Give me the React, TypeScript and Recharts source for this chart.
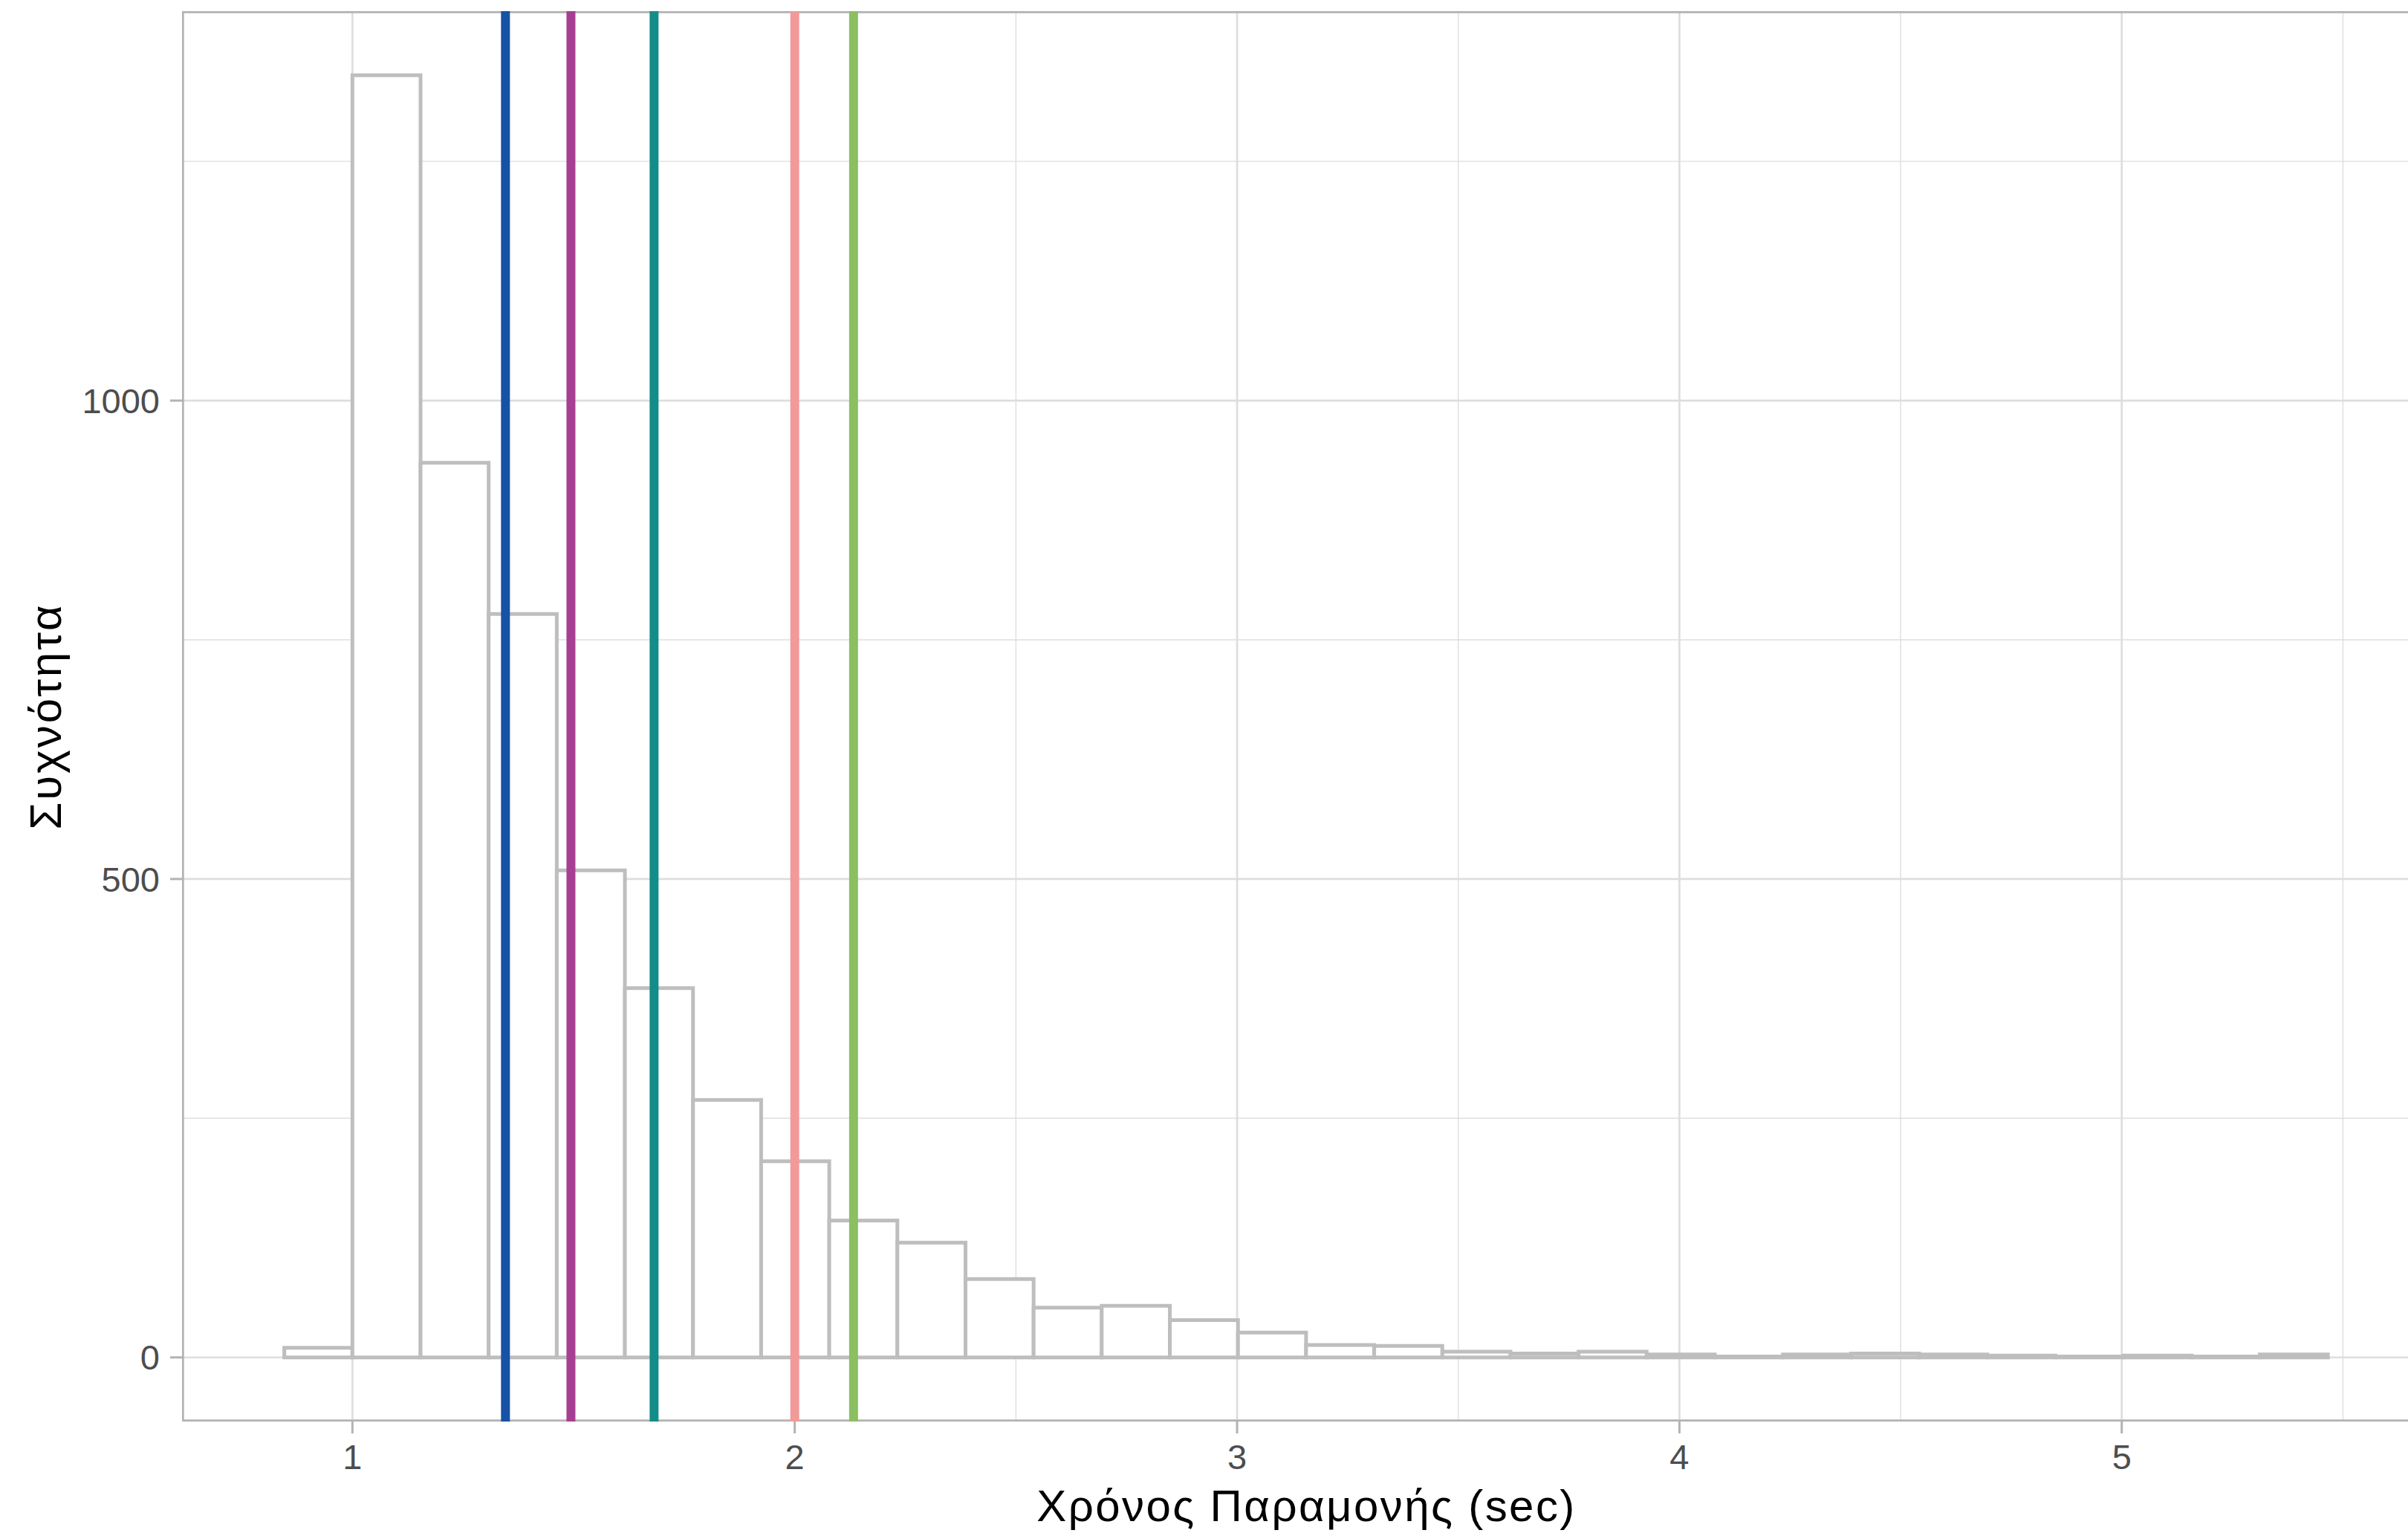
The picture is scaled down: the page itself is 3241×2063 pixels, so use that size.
import {
  ComposedChart,
  XAxis,
  YAxis,
  CartesianGrid,
  ReferenceArea,
  ReferenceLine,
  Label,
} from "recharts";

// histogram bins (sec), 31 edges -> 30 bins
const binEdges = [
  0.846, 1.0, 1.154, 1.308, 1.462, 1.616, 1.77, 1.924, 2.078, 2.232, 2.386,
  2.54, 2.694, 2.848, 3.002, 3.156, 3.31, 3.464, 3.618, 3.772, 3.926, 4.08,
  4.234, 4.388, 4.542, 4.696, 4.85, 5.004, 5.158, 5.312, 5.466,
];
const binCounts = [
  10, 1340, 935, 777, 509, 386, 269, 205, 143, 120, 82, 52, 54, 39, 26, 13, 12,
  6, 4, 6, 3, 1, 3, 4, 3, 2, 1, 2, 1, 3,
];

// vertical reference lines
const markerValues = [1.346, 1.494, 1.682, 2.0, 2.133];
const markerColors = ["#1652A6", "#A63F92", "#138D8A", "#F29999", "#8BBF62"];

const xTicks = [1, 2, 3, 4, 5];
const xMinor = [1.5, 2.5, 3.5, 4.5, 5.5];
const yTicks = [0, 500, 1000];
const yMinor = [250, 750, 1250];

const xDomain: [number, number] = [0.6148, 5.6992];
const yDomain: [number, number] = [-67, 1407];

const FONT = '"Liberation Sans", Arial, Helvetica, sans-serif';

const bins = binCounts.map((count, i) => ({
  x0: binEdges[i],
  x1: binEdges[i + 1],
  count,
}));

// eslint-disable-next-line @typescript-eslint/no-explicit-any
function XTitle({ viewBox }: any) {
  if (!viewBox) return null;
  return (
    <text
      x={viewBox.x + viewBox.width / 2}
      y={viewBox.y + 134}
      textAnchor="middle"
      fontFamily={FONT}
      fontSize={60}
      letterSpacing={2.4}
      fill="#000"
    >
      Χρόνος Παραμονής (sec)
    </text>
  );
}

// eslint-disable-next-line @typescript-eslint/no-explicit-any
function YTitle({ viewBox }: any) {
  if (!viewBox) return null;
  const cx = viewBox.x + 82;
  const cy = viewBox.y + viewBox.height / 2;
  return (
    <text
      x={cx}
      y={cy}
      transform={`rotate(-90, ${cx}, ${cy})`}
      textAnchor="middle"
      fontFamily={FONT}
      fontSize={60}
      letterSpacing={3}
      fill="#000"
    >
      Συχνότητα
    </text>
  );
}

export default function App() {
  return (
    <div style={wrapStyle}>
      <ComposedChart
        width={3280}
        height={2063}
        data={bins}
        margin={{ top: 15, right: 8, bottom: 0, left: 0 }}
      >
        <CartesianGrid
          stroke="#DEDEDE"
          strokeWidth={1.4}
          horizontalValues={yMinor}
          verticalValues={xMinor}
        />
        <CartesianGrid
          stroke="#DEDEDE"
          strokeWidth={2.7}
          horizontalValues={yTicks}
          verticalValues={xTicks}
        />
        <XAxis
          type="number"
          dataKey="x0"
          domain={xDomain}
          ticks={xTicks}
          allowDataOverflow
          height={150}
          axisLine={false}
          tickLine={{ stroke: "#B3B3B3", strokeWidth: 3 }}
          tickSize={16}
          tickMargin={15}
          tick={{ fontSize: 47, fill: "#4D4D4D", fontFamily: FONT }}
        >
          <Label content={(p) => <XTitle viewBox={p.viewBox} />} />
        </XAxis>
        <YAxis
          type="number"
          domain={yDomain}
          ticks={yTicks}
          allowDataOverflow
          width={245}
          axisLine={false}
          tickLine={{ stroke: "#B3B3B3", strokeWidth: 3 }}
          tickSize={16}
          tickMargin={14}
          tick={{ fontSize: 47, fill: "#4D4D4D", fontFamily: FONT }}
        >
          <Label content={(p) => <YTitle viewBox={p.viewBox} />} />
        </YAxis>
        {bins.map((b) => (
          <ReferenceArea
            key={b.x0}
            x1={b.x0}
            x2={b.x1}
            y1={0}
            y2={b.count}
            fill="#FFFFFF"
            fillOpacity={1}
            stroke="#BEBEBE"
            strokeWidth={5}
            strokeOpacity={1}
          />
        ))}
        {markerValues.map((v, i) => (
          <ReferenceLine
            key={v}
            x={v}
            stroke={markerColors[i]}
            strokeWidth={12}
          />
        ))}
        <ReferenceArea
          x1={xDomain[0]}
          x2={xDomain[1]}
          y1={yDomain[0]}
          y2={yDomain[1]}
          fill="none"
          stroke="#B3B3B3"
          strokeWidth={5.4}
          strokeOpacity={1}
          ifOverflow="hidden"
        />
      </ComposedChart>
    </div>
  );
}

const wrapStyle: React.CSSProperties = {
  position: "absolute",
  left: 0,
  top: 0,
  width: 3241,
  height: 2063,
  overflow: "hidden",
  background: "#FFFFFF",
};
